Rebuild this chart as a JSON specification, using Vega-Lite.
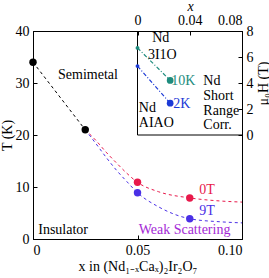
{
  "$schema": "https://vega.github.io/schema/vega-lite/v6.json",
  "width": 209,
  "height": 208,
  "autosize": {"type": "none"},
  "padding": {"left": 33, "top": 31, "right": 27, "bottom": 39},
  "config": {
    "font": "Liberation Serif",
    "view": {"stroke": "black", "strokeWidth": 1},
    "axis": {"grid": false, "domainColor": "black", "tickColor": "black", "labelColor": "black", "titleColor": "black", "labelFont": "Liberation Serif", "titleFont": "Liberation Serif", "labelFontSize": 14, "titleFontSize": 14, "titleFontWeight": "normal"},
    "text": {"font": "Liberation Serif", "fontSize": 14}
  },
  "datasets": {
    "curves": [
      {"s": "main", "x": 0, "T": 34},
      {"s": "main", "x": 0.025, "T": 21},
      {"s": "0T", "x": 0.025, "T": 21},
      {"s": "0T", "x": 0.03, "T": 19.0},
      {"s": "0T", "x": 0.035, "T": 16.7},
      {"s": "0T", "x": 0.04, "T": 14.6},
      {"s": "0T", "x": 0.045, "T": 12.6},
      {"s": "0T", "x": 0.05, "T": 10.9},
      {"s": "0T", "x": 0.06, "T": 9.1},
      {"s": "0T", "x": 0.075, "T": 7.9},
      {"s": "0T", "x": 0.09, "T": 7.3},
      {"s": "0T", "x": 0.1, "T": 7.1},
      {"s": "9T", "x": 0.025, "T": 21},
      {"s": "9T", "x": 0.03, "T": 18.4},
      {"s": "9T", "x": 0.035, "T": 15.7},
      {"s": "9T", "x": 0.04, "T": 13.2},
      {"s": "9T", "x": 0.045, "T": 11.0},
      {"s": "9T", "x": 0.05, "T": 8.9},
      {"s": "9T", "x": 0.06, "T": 6.2},
      {"s": "9T", "x": 0.075, "T": 3.9},
      {"s": "9T", "x": 0.09, "T": 3.3},
      {"s": "9T", "x": 0.1, "T": 3.1}
    ],
    "points": [
      {"s": "main", "x": 0, "T": 34},
      {"s": "main", "x": 0.025, "T": 21},
      {"s": "0T", "x": 0.05, "T": 10.9},
      {"s": "0T", "x": 0.075, "T": 7.9},
      {"s": "9T", "x": 0.05, "T": 8.9},
      {"s": "9T", "x": 0.075, "T": 3.9}
    ],
    "labels": [
      {"s": "main", "x": 0.0263, "T": 31.5, "t": "Semimetal"},
      {"s": "main", "x": 0.0144, "T": 1.7, "t": "Insulator"},
      {"s": "ws", "x": 0.0725, "T": 1.7, "t": "Weak Scattering"},
      {"s": "0T", "x": 0.0833, "T": 9.4, "t": "0T"},
      {"s": "9T", "x": 0.0833, "T": 5.4, "t": "9T"}
    ],
    "inset": [
      {"s": "10K", "x": 0, "H": 6.7},
      {"s": "10K", "x": 0.025, "H": 4.2},
      {"s": "2K", "x": 0, "H": 5.3},
      {"s": "2K", "x": 0.025, "H": 2.45}
    ],
    "frame": [
      {"x": 0, "H": 0, "x2": 0, "H2": 8},
      {"x": 0, "H": 0, "x2": 0.08, "H2": 0}
    ],
    "insetLabels": [
      {"s": "main", "x": 0.0112, "H": 7.46, "t": "Nd"},
      {"s": "main", "x": 0.008, "H": 6.15, "t": "3I1O"},
      {"s": "10K", "x": 0.0258, "H": 4.15, "t": "10K"},
      {"s": "2K", "x": 0.0273, "H": 2.4, "t": "2K"},
      {"s": "main", "x": 0.001, "H": 2.08, "t": "Nd"},
      {"s": "main", "x": 0.001, "H": 0.92, "t": "AIAO"},
      {"s": "main", "x": 0.0504, "H": 4.15, "t": "Nd"},
      {"s": "main", "x": 0.0504, "H": 3.0, "t": "Short"},
      {"s": "main", "x": 0.0504, "H": 1.85, "t": "Range"},
      {"s": "main", "x": 0.0504, "H": 0.77, "t": "Corr."}
    ]
  },
  "layer": [
    {
      "encoding": {
        "x": {"field": "x", "type": "quantitative", "scale": {"domain": [0, 0.1], "nice": false},
          "axis": {"orient": "bottom", "values": [0, 0.05, 0.1], "labelExpr": "datum.value == 0 ? '0' : format(datum.value, '.2f')", "tickSize": -4, "labelPadding": 8, "title": "x in (Nd₁₋ₓCaₓ)₂Ir₂O₇", "titlePadding": 2}},
        "y": {"field": "T", "type": "quantitative", "scale": {"domain": [0, 40], "nice": false},
          "axis": {"orient": "left", "values": [0, 10, 20, 30, 40], "tickSize": -4, "labelPadding": 8, "title": "T (K)", "titlePadding": 1}}
      },
      "layer": [
        {"data": {"name": "curves"}, "mark": {"type": "line", "strokeDash": [3, 3], "strokeWidth": 1, "interpolate": "monotone"},
          "encoding": {"detail": {"field": "s"}, "color": {"field": "s", "type": "nominal", "legend": null, "scale": {"domain": ["main", "0T", "9T", "ws", "10K", "2K"], "range": ["#000000", "#e8194b", "#4a30e6", "#a42ad6", "#1e8c7e", "#1c3ad6"]}}}},
        {"data": {"name": "points"}, "mark": {"type": "point", "filled": true, "opacity": 1, "size": 55},
          "encoding": {"color": {"field": "s", "type": "nominal", "legend": null}}},
        {"data": {"name": "labels"}, "mark": {"type": "text", "align": "center", "baseline": "middle"},
          "encoding": {"text": {"field": "t"}, "color": {"field": "s", "type": "nominal", "legend": null}}}
      ]
    },
    {
      "encoding": {
        "x": {"field": "x", "type": "quantitative", "scale": {"domain": [-0.08, 0.08], "nice": false},
          "axis": {"orient": "top", "values": [0, 0.04, 0.08], "labelExpr": "datum.value == 0 ? '0' : format(datum.value, '.2f')", "tickSize": -4, "labelPadding": 8, "title": "x", "titleFontStyle": "italic", "titleX": 157, "titleY": -25, "titleBaseline": "middle", "titleAlign": "center"}},
        "y": {"field": "H", "type": "quantitative", "scale": {"domain": [-8, 8], "nice": false},
          "axis": {"orient": "right", "values": [0, 2, 4, 6, 8], "tickSize": -4, "labelPadding": 8, "title": "μ₀H (T)", "titleAngle": 270, "titleX": 21, "titleY": 52, "titleBaseline": "middle", "titleAlign": "center"}}
      },
      "layer": [
        {"data": {"name": "frame"}, "mark": {"type": "rule", "color": "black", "strokeWidth": 1},
          "encoding": {"x2": {"field": "x2"}, "y2": {"field": "H2"}}},
        {"data": {"name": "inset"}, "mark": {"type": "line", "strokeDash": [4, 2, 1, 2], "strokeWidth": 1.2},
          "encoding": {"detail": {"field": "s"}, "color": {"field": "s", "type": "nominal", "legend": null}}},
        {"data": {"name": "inset"}, "transform": [{"filter": "datum.x > 0"}], "mark": {"type": "point", "filled": true, "opacity": 1, "size": 45},
          "encoding": {"color": {"field": "s", "type": "nominal", "legend": null}}},
        {"data": {"name": "inset"}, "transform": [{"filter": "datum.x == 0"}], "mark": {"type": "point", "filled": true, "opacity": 1, "size": 15},
          "encoding": {"color": {"field": "s", "type": "nominal", "legend": null}}},
        {"data": {"name": "insetLabels"}, "mark": {"type": "text", "align": "left", "baseline": "middle"},
          "encoding": {"text": {"field": "t"}, "color": {"field": "s", "type": "nominal", "legend": null}}}
      ]
    }
  ],
  "resolve": {"scale": {"x": "independent", "y": "independent"}, "axis": {"x": "independent", "y": "independent"}}
}
